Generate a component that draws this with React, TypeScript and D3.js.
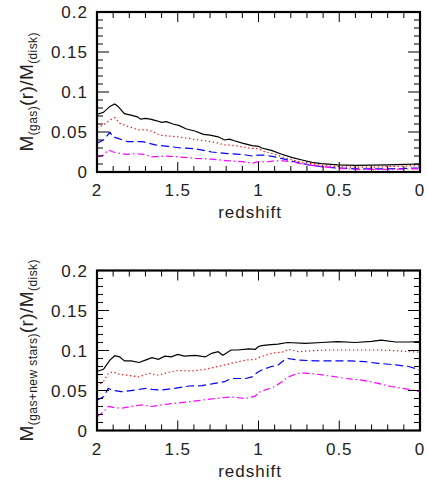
import React from "react";
import * as d3 from "d3";

// redshift, value pairs
const gasBlack: [number, number][] = [[2.0,0.072],[1.96,0.0746],[1.92,0.082],[1.89,0.085],[1.87,0.082],[1.83,0.073],[1.79,0.071],[1.75,0.069],[1.73,0.066],[1.70,0.067],[1.67,0.066],[1.63,0.064],[1.60,0.062],[1.57,0.063],[1.53,0.060],[1.49,0.058],[1.45,0.054],[1.39,0.051],[1.34,0.047],[1.30,0.046],[1.25,0.044],[1.21,0.040],[1.18,0.041],[1.15,0.039],[1.10,0.036],[1.04,0.033],[1.0,0.032],[0.98,0.030],[0.92,0.027],[0.86,0.0225],[0.79,0.018],[0.73,0.015],[0.67,0.012],[0.61,0.0104],[0.51,0.009],[0.40,0.0083],[0.30,0.0087],[0.20,0.009],[0.09,0.0095],[0,0.010]];
const gasRed: [number, number][] = [[2.0,0.055],[1.96,0.059],[1.92,0.065],[1.89,0.068],[1.86,0.061],[1.81,0.057],[1.74,0.0525],[1.70,0.053],[1.66,0.051],[1.61,0.046],[1.56,0.045],[1.50,0.044],[1.43,0.042],[1.37,0.040],[1.29,0.038],[1.21,0.034],[1.15,0.033],[1.06,0.030],[1.0,0.029],[0.96,0.025],[0.90,0.0225],[0.84,0.018],[0.77,0.014],[0.69,0.011],[0.61,0.0083],[0.51,0.0067],[0.40,0.006],[0.30,0.006],[0.20,0.0067],[0.09,0.0075],[0,0.008]];
const gasBlue: [number, number][] = [[2.0,0.036],[1.96,0.040],[1.92,0.0496],[1.90,0.044],[1.87,0.042],[1.81,0.038],[1.72,0.038],[1.64,0.034],[1.56,0.032],[1.48,0.030],[1.39,0.029],[1.29,0.025],[1.19,0.023],[1.10,0.022],[1.04,0.020],[1.0,0.021],[0.96,0.021],[0.90,0.019],[0.84,0.016],[0.77,0.0125],[0.69,0.009],[0.61,0.0067],[0.51,0.005],[0.40,0.004],[0.30,0.004],[0.20,0.004],[0.09,0.0046],[0,0.005]];
const gasMagenta: [number, number][] = [[2.0,0.019],[1.96,0.021],[1.93,0.0275],[1.90,0.025],[1.85,0.023],[1.81,0.022],[1.76,0.023],[1.71,0.022],[1.66,0.019],[1.58,0.020],[1.50,0.019],[1.39,0.017],[1.29,0.016],[1.19,0.014],[1.10,0.013],[1.04,0.011],[1.0,0.013],[0.96,0.0125],[0.90,0.014],[0.84,0.014],[0.77,0.0116],[0.69,0.0087],[0.61,0.0067],[0.51,0.0046],[0.40,0.0034],[0.30,0.0034],[0.20,0.0034],[0.09,0.0037],[0,0.004]];

const allBlack: [number, number][] = [[2.0,0.074],[1.96,0.0765],[1.92,0.088],[1.89,0.0935],[1.86,0.092],[1.83,0.087],[1.79,0.087],[1.74,0.085],[1.70,0.088],[1.66,0.091],[1.62,0.089],[1.58,0.093],[1.54,0.092],[1.50,0.095],[1.46,0.093],[1.39,0.094],[1.33,0.092],[1.29,0.0965],[1.25,0.0985],[1.22,0.094],[1.17,0.1006],[1.13,0.1006],[1.06,0.102],[1.02,0.1015],[1.0,0.105],[0.98,0.106],[0.94,0.107],[0.88,0.108],[0.82,0.110],[0.71,0.109],[0.61,0.110],[0.51,0.111],[0.40,0.110],[0.30,0.1115],[0.24,0.113],[0.15,0.1106],[0.07,0.1106],[0,0.111]];
const allRed: [number, number][] = [[2.0,0.0556],[1.96,0.061],[1.93,0.0715],[1.90,0.0735],[1.87,0.0706],[1.81,0.069],[1.74,0.067],[1.68,0.0715],[1.62,0.069],[1.56,0.0727],[1.50,0.075],[1.41,0.0744],[1.33,0.0765],[1.25,0.080],[1.17,0.084],[1.08,0.088],[1.02,0.089],[1.0,0.091],[0.96,0.094],[0.90,0.097],[0.84,0.0985],[0.82,0.1015],[0.75,0.0985],[0.67,0.0998],[0.57,0.1006],[0.46,0.1006],[0.36,0.1006],[0.26,0.1006],[0.15,0.0998],[0.07,0.0985],[0,0.098]];
const allBlue: [number, number][] = [[2.0,0.038],[1.96,0.042],[1.93,0.0527],[1.91,0.0506],[1.85,0.0485],[1.76,0.0506],[1.70,0.0527],[1.66,0.0515],[1.60,0.0506],[1.52,0.0527],[1.43,0.0556],[1.35,0.056],[1.27,0.059],[1.21,0.061],[1.17,0.065],[1.08,0.065],[1.04,0.067],[1.02,0.0706],[1.0,0.0735],[0.98,0.0756],[0.92,0.080],[0.88,0.0815],[0.84,0.088],[0.82,0.090],[0.75,0.088],[0.65,0.087],[0.55,0.087],[0.44,0.087],[0.34,0.086],[0.26,0.084],[0.15,0.082],[0.07,0.080],[0,0.0756]];
const allMagenta: [number, number][] = [[2.0,0.017],[1.96,0.0235],[1.93,0.030],[1.90,0.029],[1.85,0.0277],[1.79,0.030],[1.72,0.032],[1.66,0.030],[1.60,0.032],[1.52,0.034],[1.43,0.036],[1.35,0.038],[1.27,0.040],[1.17,0.042],[1.08,0.040],[1.02,0.043],[1.0,0.0475],[0.96,0.0506],[0.90,0.0548],[0.84,0.063],[0.82,0.0665],[0.77,0.0706],[0.73,0.072],[0.65,0.0706],[0.55,0.068],[0.46,0.065],[0.36,0.063],[0.26,0.059],[0.18,0.055],[0.07,0.0515],[0,0.0485]];

const xTickLabels = ["2", "1.5", "1", "0.5", "0"];
const xTickValues = [2, 1.5, 1, 0.5, 0];
const yTickLabels = ["0", "0.05", "0.1", "0.15", "0.2"];
const yTickValues = [0, 0.05, 0.1, 0.15, 0.2];
const topLabelParts = ["M", "(gas)", "(r)/M", "(disk)"];
const bottomLabelParts = ["M", "(gas+new stars)", "(r)/M", "(disk)"];

const FONT = "'Liberation Sans', Arial, sans-serif";

const styles = [
  { color: "#000000", dash: "none" },
  { color: "#ff0000", dash: "1.3 2.7" },
  { color: "#0000ff", dash: "8 4" },
  { color: "#ff00ff", dash: "7 3 1.5 3" },
];

function Panel({ top, series, parts, labelLen }: { top: number; series: [number, number][][]; parts: string[]; labelLen: number }) {
  const left = 97, right = 420, bottom = top + 160;
  const x = d3.scaleLinear().domain([2, 0]).range([left, right]);
  const y = d3.scaleLinear().domain([0, 0.2]).range([bottom, top]);
  const line = d3.line<[number, number]>().x(d => x(d[0])).y(d => y(d[1]));
  const xMinor = d3.range(0, 21).map(i => i / 10);
  const yMinor = d3.range(0, 21).map(i => i / 100);
  const isMajorX = (v: number) => Math.abs(v * 2 - Math.round(v * 2)) < 1e-6;
  const isMajorY = (v: number) => Math.abs(v * 20 - Math.round(v * 20)) < 1e-6;
  return (
    <g>
      <defs>
        <clipPath id={`clip${Math.round(top)}`}>
          <rect x={left} y={top} width={right - left} height={bottom - top} />
        </clipPath>
      </defs>
      <g clipPath={`url(#clip${Math.round(top)})`}>
        {series.map((s, i) => (
          <path key={i} d={line(s) || ""} fill="none" stroke={styles[i].color} strokeWidth={1.2}
            strokeDasharray={styles[i].dash} />
        ))}
      </g>
      {xMinor.map((v, i) => {
        const len = isMajorX(v) ? 10 : 6;
        return (
          <g key={"x" + i}>
            <line x1={x(v)} x2={x(v)} y1={bottom} y2={bottom - len} stroke="#000" strokeWidth={1} />
            <line x1={x(v)} x2={x(v)} y1={top} y2={top + len} stroke="#000" strokeWidth={1} />
          </g>
        );
      })}
      {yMinor.map((v, i) => {
        const len = isMajorY(v) ? 12 : 6;
        return (
          <g key={"y" + i}>
            <line x1={left} x2={left + len} y1={y(v)} y2={y(v)} stroke="#000" strokeWidth={1} />
            <line x1={right} x2={right - len} y1={y(v)} y2={y(v)} stroke="#000" strokeWidth={1} />
          </g>
        );
      })}
      <rect x={left} y={top} width={right - left} height={bottom - top} fill="none" stroke="#000" strokeWidth={2.2} />
      {xTickValues.map((v, i) => (
        <text key={"xl" + i} x={x(v)} y={bottom + 24} textAnchor="middle" fontFamily={FONT} fontSize={17}
          letterSpacing={1} fill="#222">{xTickLabels[i]}</text>
      ))}
      {yTickValues.map((v, i) => (
        <text key={"yl" + i} x={left - 9} y={y(v) + 6} textAnchor="end" fontFamily={FONT} fontSize={17}
          letterSpacing={1} fill="#222">{yTickLabels[i]}</text>
      ))}
      <text x={250} y={bottom + 46} textAnchor="middle" fontFamily={FONT} fontSize={17} letterSpacing={1} fill="#222">redshift</text>
      <text transform={`translate(33,${(top + bottom) / 2}) rotate(-90)`} textAnchor="middle" fontFamily={FONT}
        fontSize={19} fill="#222" textLength={labelLen} lengthAdjust="spacing">
        <tspan>{parts[0]}</tspan>
        <tspan fontSize={12} dy={4}>{parts[1]}</tspan>
        <tspan dy={-4}>{parts[2]}</tspan>
        <tspan fontSize={12} dy={4}>{parts[3]}</tspan>
      </text>
    </g>
  );
}

export default function App() {
  return (
    <svg width={427} height={483} style={{ display: "block", position: "absolute", left: 0, top: 0 }}>
      <rect width={427} height={483} fill="#fff" />
      <Panel top={12} series={[gasBlack, gasRed, gasBlue, gasMagenta]} labelLen={119} parts={topLabelParts} />
      <Panel top={270.5} series={[allBlack, allRed, allBlue, allMagenta]} labelLen={182} parts={bottomLabelParts} />
    </svg>
  );
}
